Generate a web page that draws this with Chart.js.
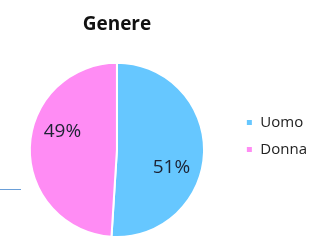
<!DOCTYPE html>
<html><head><meta charset="utf-8">
<script src="https://cdn.jsdelivr.net/npm/chart.js@4"></script>
<style>html,body{margin:0;padding:0;background:#fff;}#w{width:317px;height:246px;}</style>
</head><body><div id="w"><canvas id="c" width="317" height="246"></canvas></div>
<script>
const categories = ["Uomo", "Donna"];
const values = [51, 49];
const labelsText = ["51%", "49%"];
const colors = ["#66C7FF", "#FF8CF4"];
const titleText = "Genere";

const pctLabels = {
  id: 'pctLabels',
  afterDatasetsDraw(chart) {
    const ctx = chart.ctx;
    const meta = chart.getDatasetMeta(0);
    ctx.save();
    ctx.font = '19px "Open Sans", sans-serif';
    ctx.fillStyle = '#1c2233';
    ctx.textAlign = 'center';
    ctx.textBaseline = 'middle';
    meta.data.forEach((arc, i) => {
      const p = arc.getProps(['x','y','startAngle','endAngle','outerRadius'], true);
      const mid = (p.startAngle + p.endAngle) / 2 + 0.29;
      const r = p.outerRadius * 0.66;
      ctx.fillText(labelsText[i], p.x + Math.cos(mid) * r, p.y + Math.sin(mid) * r);
    });
    ctx.restore();
  }
};
const strayLine = {
  id: 'strayLine',
  afterDraw(chart) {
    const ctx = chart.ctx;
    ctx.save();
    ctx.strokeStyle = '#6A9FD8';
    ctx.lineWidth = 1;
    ctx.beginPath();
    ctx.moveTo(0, 189.5);
    ctx.lineTo(21, 189.5);
    ctx.stroke();
    ctx.restore();
  }
};

new Chart(document.getElementById('c'), {
  type: 'pie',
  data: {
    labels: categories,
    datasets: [{ data: values, backgroundColor: colors, borderColor: '#ffffff', borderWidth: 2 }]
  },
  options: {
    responsive: false,
    animation: false,
    layout: { padding: { left: 0, right: 0, bottom: 8, top: 0 } },
    plugins: {
      title: {
        display: true, text: titleText, fullSize: false,
        font: { family: '"Open Sans", sans-serif', size: 19, weight: 'bold' },
        color: '#111', padding: { top: 13, bottom: 26 }
      },
      legend: {
        position: 'right',
        title: { display: true, text: ' ', font: { size: 10, lineHeight: 1 }, padding: { top: 0, bottom: 24 } },
        labels: {
          boxWidth: 7, boxHeight: 7, padding: 12,
          font: { family: '"Open Sans", sans-serif', size: 15 },
          color: '#222'
        }
      },
      tooltip: { enabled: false }
    }
  },
  plugins: [pctLabels, strayLine]
});
</script></body></html>
